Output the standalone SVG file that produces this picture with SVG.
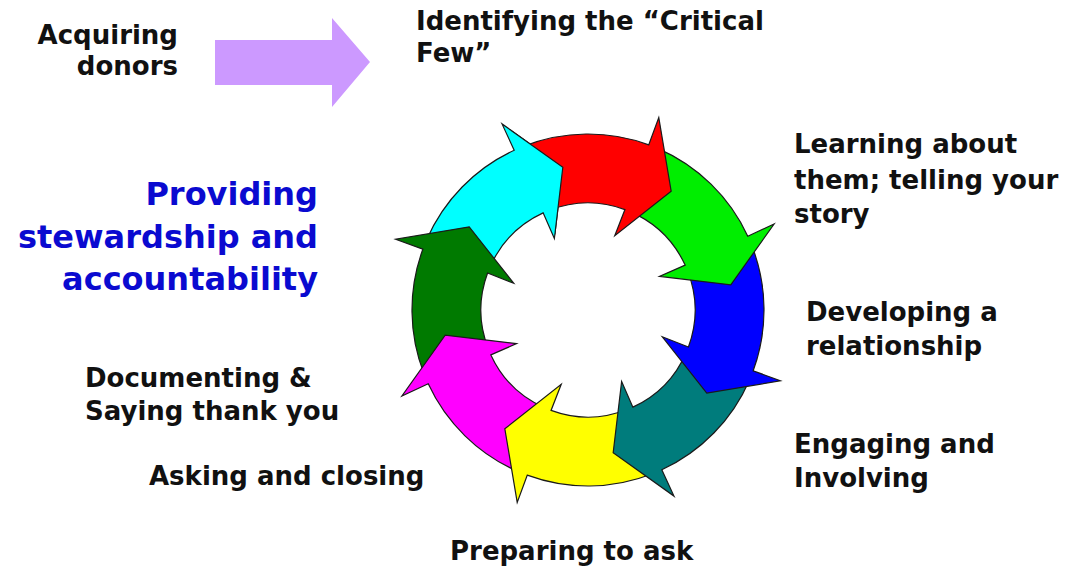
<svg xmlns="http://www.w3.org/2000/svg" xmlns:xlink="http://www.w3.org/1999/xlink" width="1065" height="567" viewBox="0 0 1065 567">
  <style>
    .lbl { font-family: "DejaVu Sans", Verdana, sans-serif; font-weight: bold; font-size: 26px; fill: #111; }
    .lbl-blue { font-family: "DejaVu Sans", Verdana, sans-serif; font-weight: bold; font-size: 32px; fill: #0a0ad0; }
    .seg { stroke: #1a1a1a; stroke-width: 1.2; stroke-linejoin: miter; }
  </style>
  <defs>
    <!-- one curved ring segment, tip at angle 0, body sweeping back counter-clockwise -->
    <path id="seg-shape" d="M97.14,-146.77 A176,176 0 0 1 170.16,-44.95 L198.19,-52.36 L145,0 L76.24,-20.71 L103.45,-27.33 A107,107 0 0 0 59.05,-89.23 Z"/>
    <!-- wedge around the cyan head so it can sit above the red tail -->
    <clipPath id="cyan-head-clip">
      <polygon points="588,310 480,60 640,60"/>
    </clipPath>
  </defs>

  <rect width="1065" height="567" fill="#ffffff"/>

  <!-- intro arrow -->
  <g id="intro-arrow">
    <polygon points="215,40 332,40 332,18 370,62 332,107 332,85 215,85" fill="#cc99ff"/>
  </g>

  <!-- cycle ring -->
  <g id="connectors">
    <g id="ring-cyan"><use xlink:href="#seg-shape" class="seg" fill="#00ffff" transform="translate(588,310) rotate(260)"/></g>
    <g id="ring-darkgreen"><use xlink:href="#seg-shape" class="seg" fill="#007a00" transform="translate(588,310) rotate(215)"/></g>
    <g id="ring-magenta"><use xlink:href="#seg-shape" class="seg" fill="#ff00ff" transform="translate(588,310) rotate(170)"/></g>
    <g id="ring-yellow"><use xlink:href="#seg-shape" class="seg" fill="#ffff00" transform="translate(588,310) rotate(125)"/></g>
    <g id="ring-teal"><use xlink:href="#seg-shape" class="seg" fill="#007c7c" transform="translate(588,310) rotate(80)"/></g>
    <g id="ring-blue"><use xlink:href="#seg-shape" class="seg" fill="#0000ff" transform="translate(588,310) rotate(35)"/></g>
    <g id="ring-green"><use xlink:href="#seg-shape" class="seg" fill="#00ee00" transform="translate(588,310) rotate(-10)"/></g>
    <g id="ring-red"><use xlink:href="#seg-shape" class="seg" fill="#ff0000" transform="translate(588,310) rotate(-55)"/></g>
    <g id="ring-cyan-head" clip-path="url(#cyan-head-clip)"><use xlink:href="#seg-shape" class="seg" fill="#00ffff" transform="translate(588,310) rotate(260)"/></g>
  </g>

  <!-- labels -->
  <g id="node-acquiring">
    <text class="lbl" text-anchor="end" x="178" y="44">Acquiring</text>
    <text class="lbl" text-anchor="end" x="178" y="75">donors</text>
  </g>
  <g id="node-critical-few">
    <text class="lbl" x="416" y="30">Identifying the “Critical</text>
    <text class="lbl" x="416" y="62">Few”</text>
  </g>
  <g id="node-learning">
    <text class="lbl" x="794" y="153">Learning about</text>
    <text class="lbl" x="794" y="189">them; telling your</text>
    <text class="lbl" x="794" y="223">story</text>
  </g>
  <g id="node-developing">
    <text class="lbl" x="806" y="321">Developing a</text>
    <text class="lbl" x="806" y="355">relationship</text>
  </g>
  <g id="node-engaging">
    <text class="lbl" x="794" y="453">Engaging and</text>
    <text class="lbl" x="794" y="487">Involving</text>
  </g>
  <g id="node-preparing">
    <text class="lbl" x="450" y="560">Preparing to ask</text>
  </g>
  <g id="node-asking">
    <text class="lbl" x="149" y="485">Asking and closing</text>
  </g>
  <g id="node-documenting">
    <text class="lbl" x="85" y="387">Documenting &amp;</text>
    <text class="lbl" x="85" y="420">Saying thank you</text>
  </g>
  <g id="node-stewardship">
    <text class="lbl-blue" text-anchor="end" x="318" y="205">Providing</text>
    <text class="lbl-blue" text-anchor="end" x="318" y="248">stewardship and</text>
    <text class="lbl-blue" text-anchor="end" x="318" y="290">accountability</text>
  </g>
</svg>
